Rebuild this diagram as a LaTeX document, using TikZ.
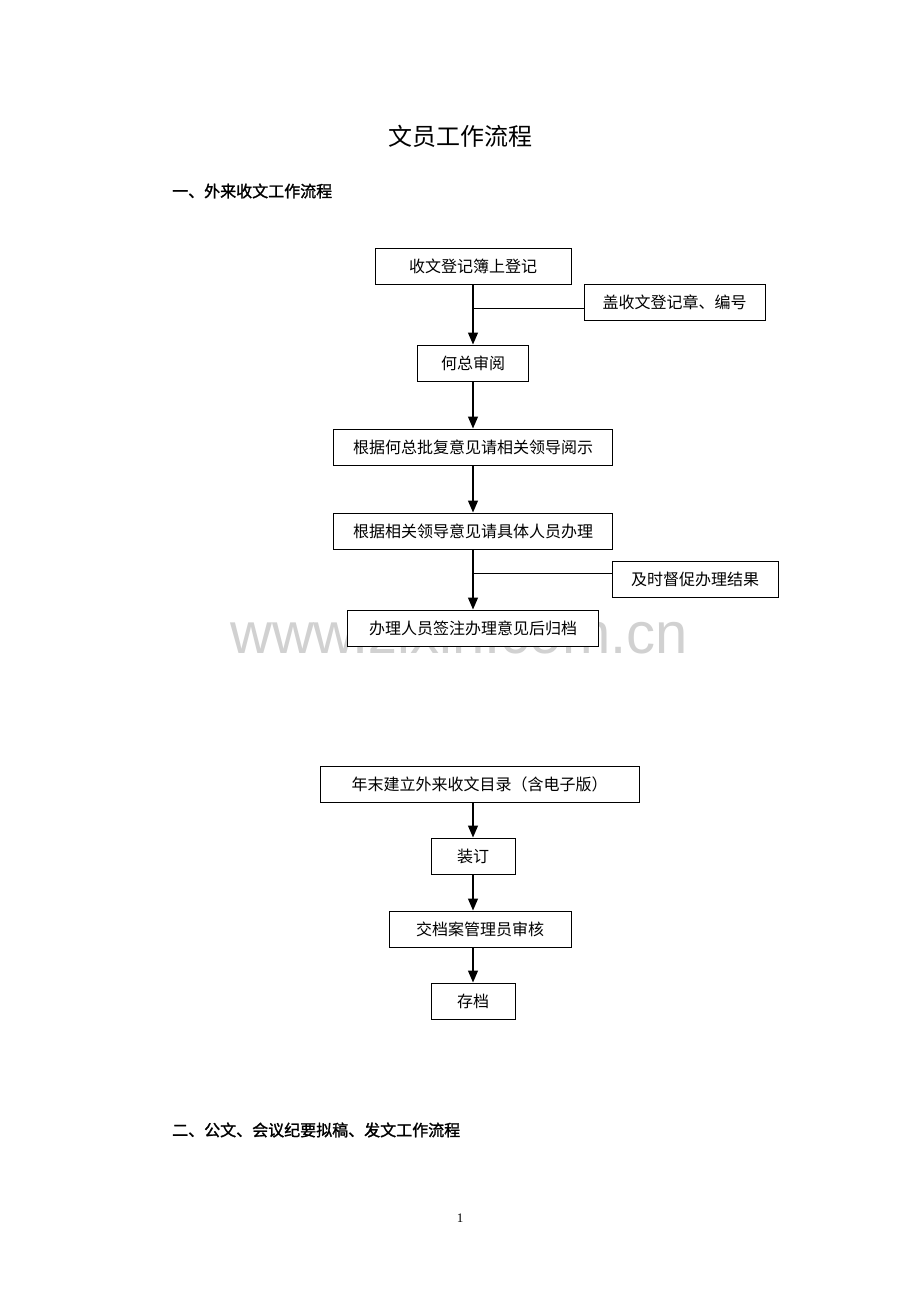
\documentclass[tikz,border=0pt]{standalone}
\usepackage{fontspec}
\setmainfont{Liberation Serif}
\newfontfamily\cjk{Noto Sans CJK SC}
\newfontfamily\cjkb{Noto Sans CJK SC}[FakeBold=1.5]
\newfontfamily\wmfont{Liberation Sans}
\usetikzlibrary{arrows.meta}
\begin{document}
\begin{tikzpicture}[x=1pt,y=-1pt,
  box/.style={draw=black,line width=1pt,fill=white,inner sep=0pt,minimum height=36pt,
    font=\cjk\fontsize{16}{16}\selectfont},
  flow/.style={line width=1.2pt,-{Triangle[length=12pt,width=10pt]}},
  branch/.style={line width=1pt}]
\useasboundingbox (0,0) rectangle (920,1302);
\fill[white] (0,0) rectangle (920,1302);
% watermark
\node[text=black!18,font=\wmfont\fontsize{58}{58}\selectfont,inner sep=0pt] (wm) at (459,633) {www.zixin.com.cn};
% titles
\node[font=\cjk\fontsize{24}{24}\selectfont,inner sep=0pt] (title) at (460,136) {文员工作流程};
\node[font=\cjkb\fontsize{16}{16}\selectfont,inner sep=0pt,anchor=west] (h1) at (172,191) {一、外来收文工作流程};
\node[font=\cjkb\fontsize{16}{16}\selectfont,inner sep=0pt,anchor=west] (h2) at (172,1130) {二、公文、会议纪要拟稿、发文工作流程};
\node[font=\fontsize{13}{13}\selectfont,inner sep=0pt] (pg) at (460,1218) {1};
% boxes
\node[box,minimum width=196pt] (b1) at (473,266) {收文登记簿上登记};
\node[box,minimum width=181pt] (b2) at (674.5,302) {盖收文登记章、编号};
\node[box,minimum width=111pt] (b3) at (473,363) {何总审阅};
\node[box,minimum width=279pt] (b4) at (473,447) {根据何总批复意见请相关领导阅示};
\node[box,minimum width=279pt] (b5) at (473,531) {根据相关领导意见请具体人员办理};
\node[box,minimum width=166pt] (b6) at (695,579) {及时督促办理结果};
\node[box,minimum width=251pt] (b7) at (473,628) {办理人员签注办理意见后归档};
\node[box,minimum width=319pt] (b8) at (479.5,784) {年末建立外来收文目录（含电子版）};
\node[box,minimum width=84pt] (b9) at (473,856) {装订};
\node[box,minimum width=182pt] (b10) at (480,929) {交档案管理员审核};
\node[box,minimum width=84pt] (b11) at (473,1001) {存档};
% connectors
\coordinate (j1) at (473,308);
\coordinate (j2) at (473,573);
\draw[flow] (b1.south -| j1) -- (b3.north);
\draw[branch] (j1) -- (j1 -| b2.west);
\draw[flow] (b3) -- (b4);
\draw[flow] (b4) -- (b5);
\draw[flow] (b5.south -| j2) -- (b7.north -| j2);
\draw[branch] (j2) -- (j2 -| b6.west);
\draw[flow] (b8.south -| b9) -- (b9.north);
\draw[flow] (b9.south) -- (b10.north -| b9);
\draw[flow] (b10.south -| b11) -- (b11.north);
\end{tikzpicture}
\end{document}
